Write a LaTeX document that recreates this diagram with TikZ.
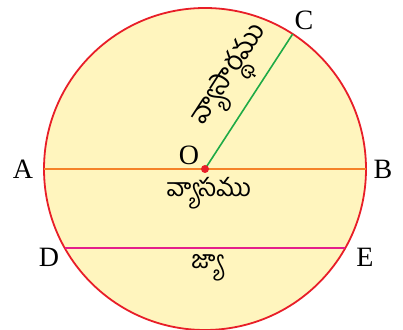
\documentclass[tikz,border=0pt]{standalone}
\usepackage{fontspec}
\usetikzlibrary{calc}
\setmainfont{Liberation Serif}
\newfontfamily\telugufont[Script=Telugu]{Hind Guntur}
\definecolor{discol}{RGB}{255, 245, 190}
\definecolor{rimcol}{RGB}{232, 30, 40}
\definecolor{diamcol}{RGB}{245, 130, 40}
\definecolor{radcol}{RGB}{30, 170, 70}
\definecolor{chordcol}{RGB}{228, 30, 140}

\begin{document}
\begin{tikzpicture}[
    x=1pt, y=1pt,
    pointlabel/.style = {font=\fontsize{28}{28}\selectfont, inner sep=0pt},
    telugu/.style = {font=\telugufont\fontsize{25}{25}\selectfont, inner sep=0pt},
    segment/.style = {line width=1.6pt}
]
    \useasboundingbox (0,0) rectangle (403,329);

    % CIRCLE
    \coordinate (O) at (205,160);
    \fill[discol] (O) circle (161);
    \draw[rimcol, line width=1.8pt] (O) circle (161);

    % POINTS ON THE CIRCLE
    \coordinate (A) at ($(O)+(180:161)$);
    \coordinate (B) at ($(O)+(0:161)$);
    \coordinate (C) at ($(O)+(57:161)$);
    \coordinate (D) at ($(O)+(209.4:161)$);
    \coordinate (E) at ($(O)+(-29.4:161)$);

    % SEGMENTS
    \draw[segment, diamcol] (A) -- (B);
    \draw[segment, chordcol] (D) -- (E);
    \draw[segment, radcol] (O) -- (C);
    \fill[rimcol] (O) circle (4);

    % LABELS
    \node[pointlabel] (labA) at (23,160) {A};
    \node[pointlabel] (labB) at (383,160) {B};
    \node[pointlabel] (labC) at (304,309) {C};
    \node[pointlabel] (labD) at (49,72) {D};
    \node[pointlabel] (labE) at (365,72) {E};
    \node[pointlabel] (labO) at (189,174) {O};

    % TELUGU NAMES
    \node[telugu, rotate=57, font=\telugufont\fontsize{27}{27}\selectfont] (radname) at (233,252) {వ్యాసార్థము};
    \node[telugu] (diamname) at (209,136) {వ్యాసము};
    \node[telugu] (chordname) at (207,61) {జ్యా};

\end{tikzpicture}
\end{document}
